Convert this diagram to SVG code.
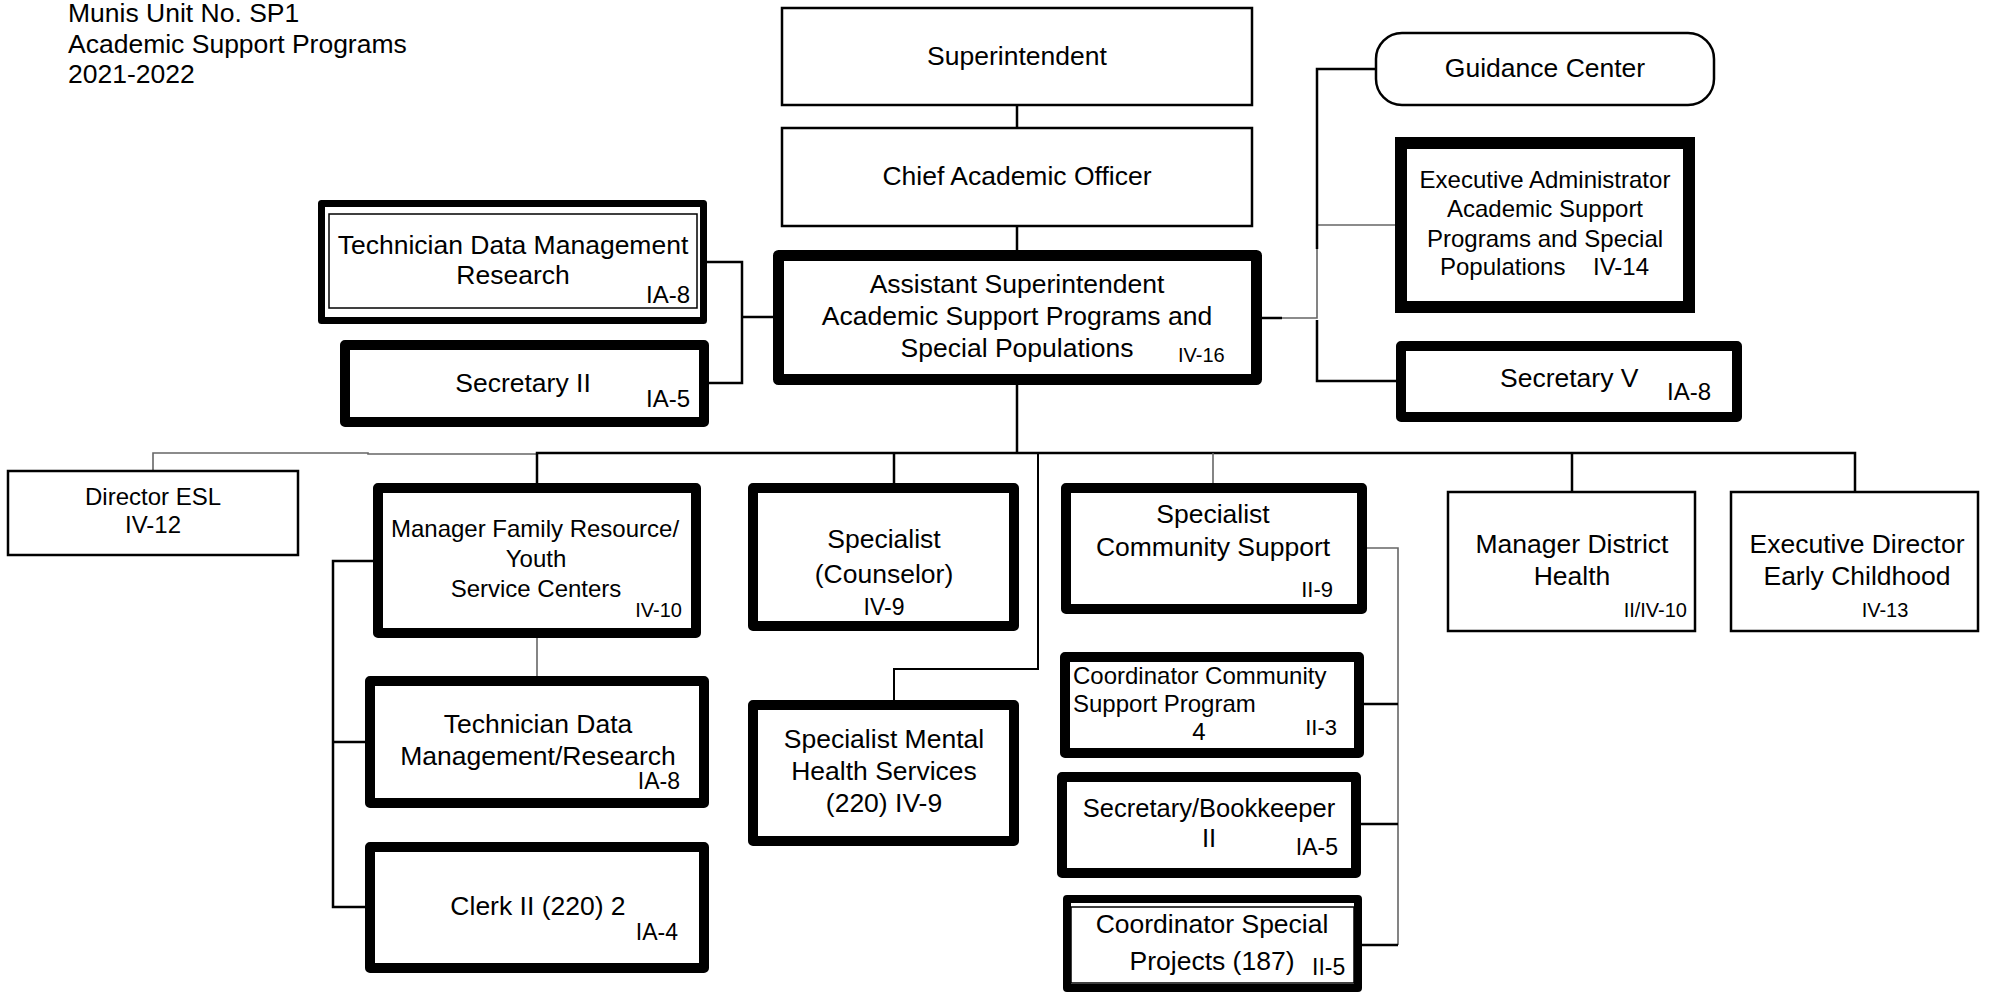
<svg xmlns="http://www.w3.org/2000/svg" width="1989" height="993" viewBox="0 0 1989 993">
<style>
text{font-family:"Liberation Sans",Arial,sans-serif;fill:#000}
.m{font-size:26.5px;text-anchor:middle}
.md{font-size:24px;text-anchor:middle}
.h{font-size:26.5px}
.g{font-size:23px;text-anchor:end}
.thin{fill:#fff;stroke:#000;stroke-width:2.5}
.thick{fill:#fff;stroke:#000;stroke-width:10;stroke-linejoin:round}
.inner{fill:none;stroke:#000;stroke-width:1.5}
.c{fill:none;stroke:#000;stroke-width:2.5}
.cg{fill:none;stroke:#666;stroke-width:1.6}
</style>
<rect width="1989" height="993" fill="#fff"/>
<g id="header">
<text class="h" x="68" y="22">Munis Unit No. SP1</text>
<text class="h" x="68" y="53">Academic Support Programs</text>
<text class="h" x="68" y="83">2021-2022</text>
</g>
<g id="connectors">
<path class="c" d="M1017 105V128M1017 226V250M1017 385V453"/>
<path class="c" d="M707 262H742V383H709M742 317H773"/>
<path class="c" d="M1262 318H1282"/>
<path class="cg" d="M1282 318H1317V249M1317 225H1395"/>
<path class="c" d="M1376 69H1317V249M1317 320V381H1396"/>
<path class="cg" d="M153 471V453H368V454H537"/>
<path class="c" d="M537 483V453H1855V492M894 453V483M1572 453V492"/>
<path class="cg" d="M1213 453V483"/>
<path class="c" d="M1038 453V669H894V700" style="stroke-width:2"/>
<path class="c" d="M373 561H333V907H365M333 742H365"/>
<path class="cg" d="M537 638V676"/>
<path class="cg" d="M1367 548H1398V945"/>
<path class="c" d="M1364 704H1398M1361 824H1398M1354 945H1398"/>
</g>
<g id="superintendent">
<rect class="thin" x="782" y="8" width="470" height="97"/>
<text class="m" x="1017" y="65">Superintendent</text>
</g>
<g id="chief-academic-officer">
<rect class="thin" x="782" y="128" width="470" height="98"/>
<text class="m" x="1017" y="185">Chief Academic Officer</text>
</g>
<g id="assistant-superintendent">
<rect class="thick" x="778.5" y="255.5" width="478" height="124" style="stroke-width:11"/>
<text class="m" x="1017" y="293">Assistant Superintendent</text>
<text class="m" x="1017" y="325">Academic Support Programs and</text>
<text class="m" x="1017" y="357">Special Populations</text>
<text x="1178" y="362" style="font-size:20px">IV-16</text>
</g>
<g id="technician-data-management-research">
<rect class="thick" x="321.5" y="203.5" width="382" height="117" style="stroke-width:7"/>
<rect class="inner" x="329" y="214" width="368" height="94"/>
<text class="m" x="513" y="254">Technician Data Management</text>
<text class="m" x="513" y="284">Research</text>
<text class="g" x="690" y="303" style="font-size:24px">IA-8</text>
</g>
<g id="secretary-ii">
<rect class="thick" x="345" y="345" width="359" height="77"/>
<text class="m" x="523" y="392">Secretary II</text>
<text class="g" x="690" y="407" style="font-size:24px">IA-5</text>
</g>
<g id="guidance-center">
<rect class="thin" x="1376" y="33" width="338" height="72" rx="26"/>
<text class="m" x="1545" y="77">Guidance Center</text>
</g>
<g id="executive-administrator">
<rect class="thick" x="1401" y="143" width="288" height="164" style="stroke-width:12;stroke-linejoin:miter"/>
<text class="md" x="1545" y="188">Executive Administrator</text>
<text class="md" x="1545" y="217">Academic Support</text>
<text class="md" x="1545" y="247">Programs and Special</text>
<text style="font-size:24px" x="1440" y="275">Populations</text>
<text style="font-size:24px" x="1593" y="275">IV-14</text>
</g>
<g id="secretary-v">
<rect class="thick" x="1401" y="346" width="336" height="71"/>
<text class="h" x="1500" y="387">Secretary V</text>
<text x="1667" y="400" style="font-size:24px">IA-8</text>
</g>
<g id="director-esl">
<rect class="thin" x="8" y="471" width="290" height="84"/>
<text class="md" x="153" y="505">Director ESL</text>
<text class="md" x="153" y="533">IV-12</text>
</g>
<g id="manager-family-resource">
<rect class="thick" x="378" y="488" width="318" height="145"/>
<text class="md" x="535" y="537">Manager Family Resource/</text>
<text class="md" x="536" y="567">Youth</text>
<text class="md" x="536" y="597">Service Centers</text>
<text class="g" x="682" y="617" style="font-size:20px">IV-10</text>
</g>
<g id="specialist-counselor">
<rect class="thick" x="753" y="488" width="261" height="138"/>
<text class="m" x="884" y="548">Specialist</text>
<text class="m" x="884" y="583">(Counselor)</text>
<text class="m" x="884" y="615" style="font-size:23px">IV-9</text>
</g>
<g id="specialist-community-support">
<rect class="thick" x="1066" y="488" width="296" height="121"/>
<text class="m" x="1213" y="523">Specialist</text>
<text class="m" x="1213" y="556">Community Support</text>
<text class="g" x="1333" y="597" style="font-size:22px">II-9</text>
</g>
<g id="manager-district-health">
<rect class="thin" x="1448" y="492" width="247" height="139"/>
<text class="m" x="1572" y="553">Manager District</text>
<text class="m" x="1572" y="585">Health</text>
<text class="g" x="1687" y="617" style="font-size:20px">II/IV-10</text>
</g>
<g id="executive-director-early-childhood">
<rect class="thin" x="1731" y="492" width="247" height="139"/>
<text class="m" x="1857" y="553">Executive Director</text>
<text class="m" x="1857" y="585">Early Childhood</text>
<text class="m" x="1885" y="617" style="font-size:20px">IV-13</text>
</g>
<g id="technician-data-management-research-2">
<rect class="thick" x="370" y="681" width="334" height="122"/>
<text class="m" x="538" y="733">Technician Data</text>
<text class="m" x="538" y="765">Management/Research</text>
<text class="g" x="680" y="789">IA-8</text>
</g>
<g id="clerk-ii">
<rect class="thick" x="370" y="847" width="334" height="121"/>
<text class="m" x="538" y="915">Clerk II (220) 2</text>
<text class="g" x="678" y="940">IA-4</text>
</g>
<g id="specialist-mental-health">
<rect class="thick" x="753" y="705" width="261" height="136"/>
<text class="m" x="884" y="748">Specialist Mental</text>
<text class="m" x="884" y="780">Health Services</text>
<text class="m" x="884" y="812">(220) IV-9</text>
</g>
<g id="coordinator-community-support-program">
<rect class="thick" x="1065" y="657" width="294" height="96"/>
<text x="1073" y="684" style="font-size:24px">Coordinator Community</text>
<text x="1073" y="712" style="font-size:24px">Support Program</text>
<text class="md" x="1199" y="740">4</text>
<text class="g" x="1337" y="735" style="font-size:22px">II-3</text>
</g>
<g id="secretary-bookkeeper-ii">
<rect class="thick" x="1062" y="777" width="294" height="96"/>
<text class="m" x="1209" y="817" style="font-size:25.5px">Secretary/Bookkeeper</text>
<text class="m" x="1209" y="847" style="font-size:25.5px">II</text>
<text class="g" x="1338" y="855">IA-5</text>
</g>
<g id="coordinator-special-projects">
<rect class="thick" x="1067" y="899" width="291" height="89" style="stroke-width:8"/>
<rect class="inner" x="1071" y="907" width="283" height="76"/>
<text class="m" x="1212" y="933">Coordinator Special</text>
<text class="m" x="1212" y="970">Projects (187)</text>
<text x="1312" y="975" style="font-size:23px">II-5</text>
</g>
</svg>
